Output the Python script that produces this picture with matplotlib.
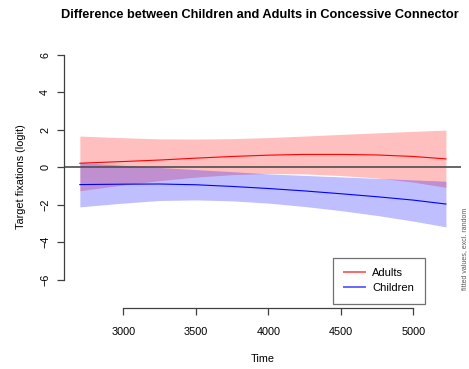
import matplotlib.pyplot as plt

plt.rcParams['font.family'] = ['Liberation Sans', 'DejaVu Sans']

# fitted smooths (logit) with confidence bands, per group
time = [2700, 3000, 3250, 3500, 3750, 4000, 4250, 4500, 4750, 5000, 5225]
adults_fit = [0.21, 0.30, 0.38, 0.48, 0.57, 0.64, 0.68, 0.68, 0.65, 0.57, 0.44]
adults_upper = [1.66, 1.57, 1.51, 1.50, 1.52, 1.58, 1.66, 1.75, 1.83, 1.91, 1.98]
adults_lower = [-1.26, -0.95, -0.72, -0.53, -0.40, -0.34, -0.36, -0.45, -0.58, -0.80, -1.08]
children_fit = [-0.93, -0.91, -0.90, -0.94, -1.03, -1.14, -1.27, -1.42, -1.58, -1.76, -1.97]
children_upper = [0.25, 0.10, -0.02, -0.13, -0.24, -0.36, -0.44, -0.52, -0.60, -0.68, -0.75]
children_lower = [-2.12, -1.92, -1.78, -1.75, -1.80, -1.92, -2.10, -2.32, -2.58, -2.88, -3.19]

xticks = [3000, 3500, 4000, 4500, 5000]
yticks = [-6, -4, -2, 0, 2, 4, 6]

fig = plt.figure(figsize=(4.69, 3.69), dpi=100)
ax = fig.add_axes([0.1365, 0.1653, 0.8465, 0.7127])

ax.fill_between(time, adults_lower, adults_upper, color='red', alpha=0.25, lw=0)
ax.fill_between(time, children_lower, children_upper, color='blue', alpha=0.25, lw=0)
ax.plot(time, adults_fit, color='red', lw=0.8, label='Adults')
ax.plot(time, children_fit, color='blue', lw=0.8, label='Children')
ax.axhline(0, color='0.3', lw=1.2)

ax.set_xlim(2591, 5329)
ax.set_ylim(-7.52, 6.52)

# R-style axes: bare lines spanning only the tick range
for side in ['top', 'right']:
    ax.spines[side].set_visible(False)
ax.spines['left'].set_bounds(-6, 6)
ax.spines['bottom'].set_bounds(3000, 5000)
for side in ['left', 'bottom']:
    ax.spines[side].set_color('0.25')
    ax.spines[side].set_linewidth(0.9)

ax.set_xticks(xticks)
ax.set_yticks(yticks)
ax.set_yticklabels([str(v).replace('-', '\u2212') for v in yticks], rotation=90, va='center')
ax.tick_params(direction='out', length=5, width=0.9, color='0.25', labelsize=7.8, pad=5)
ax.tick_params(axis='x', pad=9)

ax.set_xlabel('Time', fontsize=7.8, labelpad=12)
ax.set_ylabel('Target fixations (logit)', fontsize=7.8, labelpad=10)
fig.text(0.555, 0.958, 'Difference between Children and Adults in Concessive Connector',
         ha='center', va='center', fontsize=9.2, fontweight='bold')

leg = ax.legend(loc='lower right', bbox_to_anchor=(0.923, -0.005), fontsize=8,
                frameon=True, fancybox=False, edgecolor='0.3', handlelength=1.9,
                borderpad=0.95, labelspacing=0.45, handletextpad=0.7)
leg.get_frame().set_linewidth(0.9)
for line in leg.get_lines():
    line.set_linewidth(1.4)
    line.set_alpha(0.6)

fig.text(0.99, 0.215, 'fitted values, excl. random', rotation=90, ha='center', va='bottom',
         fontsize=5, color='0.35')

fig.savefig('out.png', dpi=100)
